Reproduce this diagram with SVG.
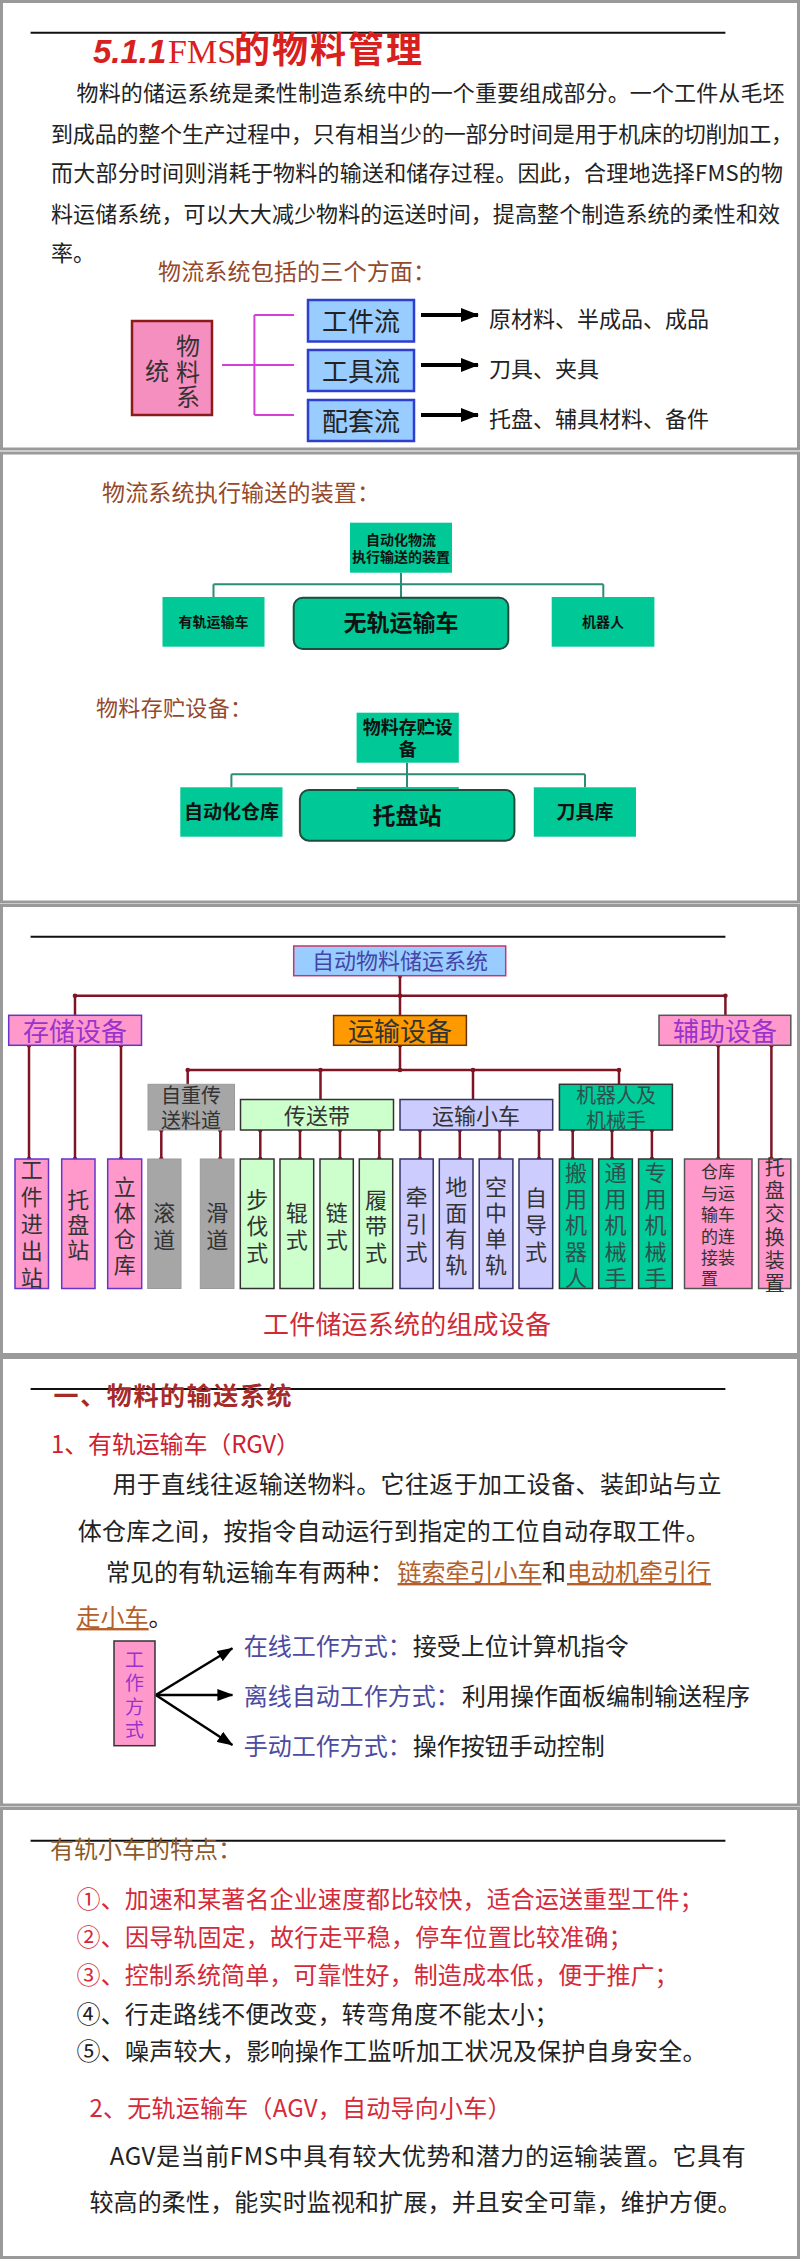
<svg xmlns="http://www.w3.org/2000/svg" width="800" height="2259" viewBox="0 0 800 2259" fill="#222">
<defs>
<marker id="ah1" markerUnits="userSpaceOnUse" markerWidth="18" markerHeight="14" refX="17" refY="7" orient="auto"><path d="M0,0 L18,7 L0,14 z" fill="#000"/></marker>
<marker id="ah2" markerUnits="userSpaceOnUse" markerWidth="16" markerHeight="12" refX="15" refY="6" orient="auto"><path d="M0,0 L16,6 L0,12 z" fill="#000"/></marker>
</defs>
<style>
text { font-family: "Noto Sans CJK SC", "Noto Sans", sans-serif; }
.c { text-anchor: middle; }
.b { font-weight: 700; }
.panel { fill: #fff; stroke: #9a9a9a; stroke-width: 3; }
.rule { stroke: #111; stroke-width: 2; }
.brown { fill: #94492a; }
.mag { stroke: #d63fd6; stroke-width: 2; fill: none; }
.blue { fill: #99ccff; stroke: #2e3ecf; stroke-width: 2.5; }
.teal { fill: #00c896; }
.tline { stroke: #2e8b74; stroke-width: 2; fill: none; }
.rline { stroke: #7f1425; stroke-width: 2.5; fill: none; }
.dot { fill: #7f1425; }
.pk { fill: #ff99cc; stroke: #6633cc; stroke-width: 1.5; }
.pk2 { fill: #ff99cc; stroke: #555; stroke-width: 1.5; }
.gy { fill: #a6a6a6; stroke: #9a9a9a; stroke-width: 1; }
.gn { fill: #ccffcc; stroke: #333; stroke-width: 1.5; }
.lv { fill: #ccccff; stroke: #333366; stroke-width: 1.5; }
.tl { fill: #00cc99; stroke: #333; stroke-width: 1.5; }
.vv { writing-mode: vertical-rl; dominant-baseline: central; text-anchor: start; font-size: 22px; }
</style>
<rect x="0" y="0" width="800" height="2259" fill="#fff"/>

<!-- Panel 1 -->
<g id="panel1">
<rect class="panel" x="1.5" y="1.5" width="797" height="447.5"/>
<line class="rule" x1="30.6" y1="32.7" x2="725.4" y2="32.7"/>
<text id="title" y="63" fill="#d8201e"><tspan x="93" font-family="Liberation Sans, sans-serif" font-style="italic" font-weight="700" font-size="33">5.1.1</tspan><tspan x="168" font-family="Liberation Serif, serif" font-size="34">FMS</tspan><tspan x="234" font-weight="700" font-size="36" letter-spacing="2">的物料管理</tspan></text>
<text x="76.6" y="101" font-size="22" textLength="708" lengthAdjust="spacing">物料的储运系统是柔性制造系统中的一个重要组成部分。一个工件从毛坯</text>
<text x="51" y="142" font-size="22" textLength="742" lengthAdjust="spacing">到成品的整个生产过程中，只有相当少的一部分时间是用于机床的切削加工，</text>
<text x="51" y="181" font-size="22" textLength="732" lengthAdjust="spacing">而大部分时间则消耗于物料的输送和储存过程。因此，合理地选择FMS的物</text>
<text x="51" y="222" font-size="22" textLength="729" lengthAdjust="spacing">料运储系统，可以大大减少物料的运送时间，提高整个制造系统的柔性和效</text>
<text x="51" y="261" font-size="22">率。</text>
<text class="brown" x="158" y="280" font-size="23" textLength="278" lengthAdjust="spacing">物流系统包括的三个方面：</text>
</g>

<g id="p1-connectors">
<path class="mag" d="M222,365 H294 M254.4,315 V415 M254.4,315 H294 M254.4,415 H294"/>
<line x1="421" y1="315" x2="478" y2="315" stroke="#000" stroke-width="4" marker-end="url(#ah1)"/>
<line x1="421" y1="365" x2="478" y2="365" stroke="#000" stroke-width="4" marker-end="url(#ah1)"/>
<line x1="421" y1="415" x2="478" y2="415" stroke="#000" stroke-width="4" marker-end="url(#ah1)"/>
</g>
<g id="n-wuliaoxitong">
<rect x="132" y="321" width="80" height="94" fill="#f58fbf" stroke="#8b1a1a" stroke-width="2.5"/>
<text class="vv" x="188" y="334" style="font-size:24px" letter-spacing="1.5" fill="#333">物料系</text>
<text class="c" x="157" y="380" font-size="24" fill="#333">统</text>
</g>
<g id="n-gongjianliu"><rect class="blue" x="308" y="300" width="106" height="41.5"/><text class="c" x="361" y="331" font-size="26">工件流</text></g>
<g id="n-gongjuliu"><rect class="blue" x="308" y="350" width="106" height="41"/><text class="c" x="361" y="381" font-size="26">工具流</text></g>
<g id="n-peitaoliu"><rect class="blue" x="308" y="400" width="106" height="41"/><text class="c" x="361" y="431" font-size="26">配套流</text></g>
<g id="n-t1"><text x="489" y="327" font-size="22">原材料、半成品、成品</text></g>
<g id="n-t2"><text x="489" y="377" font-size="22">刀具、夹具</text></g>
<g id="n-t3"><text x="489" y="427" font-size="22">托盘、辅具材料、备件</text></g>

<!-- Panel 2 -->
<g id="panel2">
<rect class="panel" x="1.5" y="453" width="797" height="449"/>
<text class="brown" x="102" y="501" font-size="23" textLength="278" lengthAdjust="spacing">物流系统执行输送的装置：</text>
<text class="brown" x="96" y="716" font-size="22" textLength="156" lengthAdjust="spacing">物料存贮设备：</text>
</g>
<g id="p2-connectors">
<path class="tline" d="M401,572.7 V597.7 M213.5,584.3 H603.3 M213.5,584.3 V597 M603.3,584.3 V597"/>
<path class="tline" d="M407,762.7 V790 M231.4,774.3 H585 M231.4,774.3 V787.3 M585,774.3 V787.3"/>
</g>
<g id="n-zdhwl"><rect class="teal" x="350" y="522.7" width="102" height="50"/><text class="c b" x="401" y="545" font-size="14" fill="#111">自动化物流</text><text class="c b" x="401" y="562" font-size="14" fill="#111">执行输送的装置</text></g>
<g id="n-ygysc"><rect class="teal" x="162.5" y="597" width="102" height="49.7"/><text class="c b" x="213.5" y="627" font-size="14" fill="#111">有轨运输车</text></g>
<g id="n-wgysc"><rect x="293.7" y="597.7" width="214.6" height="51.3" rx="9" fill="#00c896" stroke="#1e4d3c" stroke-width="2"/><text class="c b" x="401" y="631" font-size="23" fill="#111">无轨运输车</text></g>
<g id="n-jqr"><rect class="teal" x="551.7" y="597" width="102.7" height="49.7"/><text class="c b" x="603" y="627" font-size="14" fill="#111">机器人</text></g>
<g id="n-wlczsb"><rect class="teal" x="356.6" y="712.7" width="102.2" height="50"/><rect class="teal" x="356.6" y="787" width="102.2" height="40"/><text class="c b" x="407.7" y="734" font-size="18" fill="#111">物料存贮设</text><text class="c b" x="407.7" y="756" font-size="18" fill="#111">备</text></g>
<g id="n-zdhck"><rect class="teal" x="180.3" y="787.3" width="102.2" height="49.4"/><text class="c b" x="231.4" y="819" font-size="19" fill="#111">自动化仓库</text></g>
<g id="n-tpz"><rect x="299.9" y="790" width="214.5" height="50.7" rx="9" fill="#00c896" stroke="#1e4d3c" stroke-width="2"/><text class="c b" x="407" y="824" font-size="23" fill="#111">托盘站</text></g>
<g id="n-djk"><rect class="teal" x="533.8" y="787.3" width="102.2" height="49.4"/><text class="c b" x="585" y="819" font-size="19" fill="#111">刀具库</text></g>

<!-- Panel 3 -->
<g id="panel3">
<rect class="panel" x="1.5" y="905.5" width="797" height="449"/>
<line class="rule" x1="30.6" y1="936.7" x2="725.4" y2="936.7"/>
<text class="c" x="407" y="1334" font-size="26" fill="#d02a35" textLength="288" lengthAdjust="spacing">工件储运系统的组成设备</text>
</g>
<g id="p3-connectors">
<path class="rline" d="M400,975.7 V1015.7 M75,995.7 H725.4 M75,995.7 V1015.3 M725.4,995.7 V1015.3"/>
<path class="rline" d="M29,1045.3 V1159 M75,1045.3 V1159 M121,1045.3 V1159"/>
<path class="rline" d="M400,1045.3 V1070 M187.7,1070 H619 M187.7,1070 V1084.3 M320.5,1070 V1099.5 M473,1070 V1099.5 M619,1070 V1084.3"/>
<path class="rline" d="M161.3,1130 V1159 M220.3,1130 V1159 M260.3,1130 V1159 M300,1130 V1159 M340,1130 V1159 M379.3,1130 V1159"/>
<path class="rline" d="M420,1130 V1159 M459.8,1130 V1159 M499.6,1130 V1159 M539,1130 V1159 M572.7,1130 V1159 M612,1130 V1159 M651.9,1130 V1159"/>
<path class="rline" d="M718.3,1045.3 V1159 M771.4,1045.3 V1159"/>
<g class="dot">
<circle cx="400" cy="975.7" r="2.3"/><circle cx="400" cy="995.7" r="2.3"/><circle cx="75" cy="995.7" r="2.3"/><circle cx="725.4" cy="995.7" r="2.3"/>
<circle cx="29" cy="1045.3" r="2.3"/><circle cx="75" cy="1045.3" r="2.3"/><circle cx="121" cy="1045.3" r="2.3"/>
<circle cx="29" cy="1159" r="2.3"/><circle cx="75" cy="1159" r="2.3"/><circle cx="121" cy="1159" r="2.3"/>
<circle cx="400" cy="1045.3" r="2.3"/><circle cx="400" cy="1070" r="2.3"/><circle cx="187.7" cy="1070" r="2.3"/><circle cx="320.5" cy="1070" r="2.3"/><circle cx="473" cy="1070" r="2.3"/><circle cx="619" cy="1070" r="2.3"/>
<circle cx="161.3" cy="1130" r="2.3"/><circle cx="220.3" cy="1130" r="2.3"/><circle cx="260.3" cy="1130" r="2.3"/><circle cx="300" cy="1130" r="2.3"/><circle cx="340" cy="1130" r="2.3"/><circle cx="379.3" cy="1130" r="2.3"/>
<circle cx="420" cy="1130" r="2.3"/><circle cx="459.8" cy="1130" r="2.3"/><circle cx="499.6" cy="1130" r="2.3"/><circle cx="539" cy="1130" r="2.3"/><circle cx="572.7" cy="1130" r="2.3"/><circle cx="612" cy="1130" r="2.3"/><circle cx="651.9" cy="1130" r="2.3"/>
<circle cx="161.3" cy="1159" r="2.3"/><circle cx="220.3" cy="1159" r="2.3"/><circle cx="260.3" cy="1159" r="2.3"/><circle cx="300" cy="1159" r="2.3"/><circle cx="340" cy="1159" r="2.3"/><circle cx="379.3" cy="1159" r="2.3"/>
<circle cx="420" cy="1159" r="2.3"/><circle cx="459.8" cy="1159" r="2.3"/><circle cx="499.6" cy="1159" r="2.3"/><circle cx="539" cy="1159" r="2.3"/><circle cx="572.7" cy="1159" r="2.3"/><circle cx="612" cy="1159" r="2.3"/><circle cx="651.9" cy="1159" r="2.3"/>
<circle cx="718.3" cy="1045.3" r="2.3"/><circle cx="771.4" cy="1045.3" r="2.3"/><circle cx="718.3" cy="1159" r="2.3"/><circle cx="771.4" cy="1159" r="2.3"/>
</g>
</g>
<g id="n-zdwlcyxt"><rect x="293.7" y="946" width="212" height="29.7" fill="#99ccff" stroke="#cc3366" stroke-width="1.5"/><text class="c" x="400" y="969" font-size="22" fill="#4545a8">自动物料储运系统</text></g>
<g id="n-ccsb"><rect class="pk" x="8.7" y="1015.3" width="132.8" height="30"/><text class="c" x="75" y="1041" font-size="26" fill="#9933cc">存储设备</text></g>
<g id="n-yssb"><rect x="333.6" y="1015.5" width="132.8" height="29.8" fill="#ff9900" stroke="#663300" stroke-width="1.5"/><text class="c" x="400" y="1041" font-size="26" fill="#333">运输设备</text></g>
<g id="n-fzsb"><rect x="659" y="1015.3" width="131.8" height="30" fill="#ff99cc" stroke="#555" stroke-width="1.5"/><text class="c" x="725" y="1041" font-size="26" fill="#9933cc">辅助设备</text></g>
<g id="n-zzcsld"><rect class="gy" x="148" y="1084.3" width="86.5" height="45.7"/><text class="c" x="191" y="1103" font-size="20" fill="#333">自重传</text><text class="c" x="191" y="1128" font-size="20" fill="#333">送料道</text></g>
<g id="n-csd"><rect class="gn" x="240.5" y="1099.5" width="153" height="30.5"/><text class="c" x="317" y="1124" font-size="22" fill="#333">传送带</text></g>
<g id="n-ysxc"><rect class="lv" x="400" y="1099.5" width="152.7" height="30.5"/><text class="c" x="476" y="1124" font-size="22" fill="#333">运输小车</text></g>
<g id="n-jqrjjxs"><rect class="tl" x="559.4" y="1084.3" width="113" height="45.7"/><text class="c" x="616" y="1103" font-size="20" fill="#2f4f4f">机器人及</text><text class="c" x="616" y="1128" font-size="20" fill="#2f4f4f">机械手</text></g>

<g id="n-gjjcz"><rect class="pk" x="15" y="1159" width="33.5" height="129.5"/><text class="vv" x="31.7" y="1158.6" letter-spacing="5" fill="#333">工件进出站</text></g>
<g id="n-tpz2"><rect class="pk" x="61.7" y="1159" width="33.3" height="129.5"/><text class="vv" x="78.3" y="1188.6" letter-spacing="3" fill="#333">托盘站</text></g>
<g id="n-ltck"><rect class="pk" x="107.7" y="1159" width="34" height="129.5"/><text class="vv" x="124.7" y="1175.6" letter-spacing="4" fill="#333">立体仓库</text></g>
<g id="n-gd"><rect class="gy" x="147.7" y="1159" width="33.3" height="129.5"/><text class="vv" x="164.3" y="1201.6" letter-spacing="5" fill="#333">滚道</text></g>
<g id="n-hd"><rect class="gy" x="200.3" y="1159" width="33.7" height="129.5"/><text class="vv" x="217.2" y="1201.6" letter-spacing="5" fill="#333">滑道</text></g>
<g id="n-bfs"><rect class="gn" x="240.3" y="1159" width="33.7" height="129.5"/><text class="vv" x="257.2" y="1188.6" letter-spacing="4.5" fill="#333">步伐式</text></g>
<g id="n-gs"><rect class="gn" x="280" y="1159" width="33.7" height="129.5"/><text class="vv" x="296.8" y="1201.6" letter-spacing="5" fill="#333">辊式</text></g>
<g id="n-ls"><rect class="gn" x="320" y="1159" width="33.3" height="129.5"/><text class="vv" x="336.7" y="1201.6" letter-spacing="5" fill="#333">链式</text></g>
<g id="n-lds"><rect class="gn" x="359.3" y="1159" width="33.4" height="129.5"/><text class="vv" x="376" y="1188.6" letter-spacing="4.5" fill="#333">履带式</text></g>
<g id="n-qys"><rect class="lv" x="400" y="1159" width="33.2" height="129.5"/><text class="vv" x="416.6" y="1185.6" letter-spacing="5.5" fill="#333">牵引式</text></g>
<g id="n-dmyg"><rect class="lv" x="439.3" y="1159" width="33.7" height="129.5"/><text class="vv" x="456.2" y="1175.6" letter-spacing="4" fill="#333">地面有轨</text></g>
<g id="n-kzdg"><rect class="lv" x="479.2" y="1159" width="33.7" height="129.5"/><text class="vv" x="496" y="1175.6" letter-spacing="4" fill="#333">空中单轨</text></g>
<g id="n-zds"><rect class="lv" x="519" y="1159" width="33.7" height="129.5"/><text class="vv" x="535.9" y="1186.6" letter-spacing="5" fill="#333">自导式</text></g>
<g id="n-byjqr"><rect class="tl" x="559.4" y="1159" width="33.2" height="129.5"/><text class="vv" x="576" y="1161.6" letter-spacing="4.25" fill="#2f4f4f">搬用机器人</text></g>
<g id="n-tyjxs"><rect class="tl" x="598.7" y="1159" width="33.7" height="129.5"/><text class="vv" x="615.6" y="1161.6" letter-spacing="4.25" fill="#2f4f4f">通用机械手</text></g>
<g id="n-zyjxs"><rect class="tl" x="638.6" y="1159" width="33.7" height="129.5"/><text class="vv" x="655.4" y="1161.6" letter-spacing="4.25" fill="#2f4f4f">专用机械手</text></g>
<g id="n-ckyysc"><rect class="pk2" x="684.5" y="1159" width="67.5" height="129.5"/><text font-size="17" fill="#333"><tspan x="701" y="1178">仓库</tspan><tspan x="701" y="1200">与运</tspan><tspan x="701" y="1221">输车</tspan><tspan x="701" y="1243">的连</tspan><tspan x="701" y="1264">接装</tspan><tspan x="701" y="1285">置</tspan></text></g>
<g id="n-tpjhzz"><rect class="pk2" x="758.6" y="1159" width="32.2" height="129.5"/><text class="vv" x="774.7" y="1157.4" letter-spacing="3.2" style="font-size:20px" fill="#333">托盘交换装置</text></g>

<!-- Panel 4 -->
<g id="panel4">
<rect class="panel" x="1.5" y="1357.5" width="797" height="447.5"/>
<line class="rule" x1="30.6" y1="1389" x2="725.4" y2="1389"/>
<text class="b" x="53.6" y="1405" font-size="25" fill="#a52a2a" textLength="238" lengthAdjust="spacing">一、物料的输送系统</text>
<text x="51" y="1453" font-size="24" fill="#d02030" textLength="249" lengthAdjust="spacing">1、有轨运输车（RGV）</text>
<text x="112.4" y="1493" font-size="24" textLength="609" lengthAdjust="spacing">用于直线往返输送物料。它往返于加工设备、装卸站与立</text>
<text x="77.7" y="1540" font-size="24" textLength="632" lengthAdjust="spacing">体仓库之间，按指令自动运行到指定的工位自动存取工件。</text>
<text y="1581" font-size="24"><tspan x="106">常见的有轨运输车有两种：</tspan><tspan x="397.5" fill="#b5602a" text-decoration="underline">链索牵引小车</tspan><tspan x="542">和</tspan><tspan x="567" fill="#b5602a" text-decoration="underline">电动机牵引行</tspan></text>
<text y="1626" font-size="24"><tspan x="76.6" fill="#b5602a" text-decoration="underline">走小车</tspan><tspan>。</tspan></text>
</g>
<g id="p4-connectors">
<line x1="155.8" y1="1695" x2="232.4" y2="1648.3" stroke="#000" stroke-width="2.5" marker-end="url(#ah2)"/>
<line x1="155.8" y1="1695" x2="232.4" y2="1695" stroke="#000" stroke-width="2.5" marker-end="url(#ah2)"/>
<line x1="155.8" y1="1695" x2="232.4" y2="1745" stroke="#000" stroke-width="2.5" marker-end="url(#ah2)"/>
</g>
<g id="n-gzfs"><rect x="114" y="1641" width="41" height="104.7" fill="#ff99cc" stroke="#333" stroke-width="1.5"/><text class="vv" x="134.4" y="1650.3" letter-spacing="4.3" style="font-size:19px" fill="#9933cc">工作方式</text></g>
<g id="n-zx"><text y="1655" font-size="24"><tspan x="243.7" fill="#4b4ba0">在线工作方式：</tspan><tspan x="412.8">接受上位计算机指令</tspan></text></g>
<g id="n-lx"><text y="1705" font-size="24"><tspan x="243.7" fill="#4b4ba0">离线自动工作方式：</tspan><tspan x="462">利用操作面板编制输送程序</tspan></text></g>
<g id="n-sd"><text y="1755" font-size="24"><tspan x="243.7" fill="#4b4ba0">手动工作方式：</tspan><tspan x="412.8">操作按钮手动控制</tspan></text></g>

<!-- Panel 5 -->
<g id="panel5">
<rect class="panel" x="1.5" y="1808.5" width="797" height="449"/>
<line class="rule" x1="30.6" y1="1840.7" x2="725.4" y2="1840.7"/>
<text x="50" y="1858" font-size="24" fill="#8b5a2b">有轨小车的特点：</text>
<text x="76.6" y="1908" font-size="24" fill="#d42a3a" textLength="627" lengthAdjust="spacing">①、加速和某著名企业速度都比较快，适合运送重型工件；</text>
<text x="76.6" y="1946" font-size="24" fill="#d42a3a" textLength="556" lengthAdjust="spacing">②、因导轨固定，故行走平稳，停车位置比较准确；</text>
<text x="76.6" y="1984" font-size="24" fill="#d42a3a" textLength="602" lengthAdjust="spacing">③、控制系统简单，可靠性好，制造成本低，便于推广；</text>
<text x="76.6" y="2023" font-size="24" textLength="482" lengthAdjust="spacing">④、行走路线不便改变，转弯角度不能太小；</text>
<text x="76.6" y="2060" font-size="24" textLength="630" lengthAdjust="spacing">⑤、噪声较大，影响操作工监听加工状况及保护自身安全。</text>
<text x="89.4" y="2117" font-size="24" fill="#d42a3a" textLength="422" lengthAdjust="spacing">2、无轨运输车（AGV，自动导向小车）</text>
<text x="109.8" y="2165" font-size="24" textLength="636" lengthAdjust="spacing">AGV是当前FMS中具有较大优势和潜力的运输装置。它具有</text>
<text x="89.4" y="2211" font-size="24" textLength="652" lengthAdjust="spacing">较高的柔性，能实时监视和扩展，并且安全可靠，维护方便。</text>
</g>
</svg>
